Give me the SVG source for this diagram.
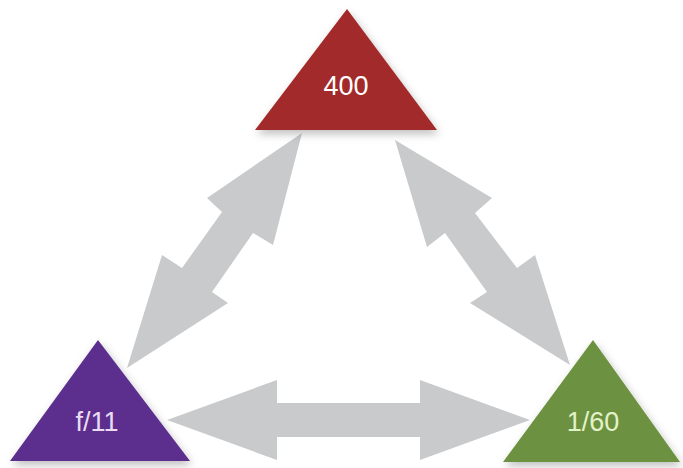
<svg xmlns="http://www.w3.org/2000/svg" width="683" height="468" viewBox="0 0 683 468">
<style>
.arrow{fill:#c9cacc}
.lbl{font-family:"Liberation Sans",Arial,sans-serif;font-size:27px;text-anchor:middle}
</style>
<defs>
<filter id="sh" x="-20%" y="-20%" width="140%" height="150%">
<feDropShadow dx="2" dy="4" stdDeviation="4" flood-color="#000" flood-opacity="0.25"/>
</filter>
</defs>
<rect width="683" height="468" fill="#ffffff"/>
<g id="connectors">
<polygon class="arrow" points="302,133 273,245 253,233 212,292 228,303 127,368 162,255 182,268 222,212 207,198"/>
<polygon class="arrow" points="395,140 492,198 475,213 517,268 535,255 570,365 470,303 487,292 445,233 427,247"/>
<polygon class="arrow" points="167,420 277,380 277,403 420,403 420,380 530,420 420,460 420,437 277,437 277,460"/>
</g>
<g id="node-400">
<polygon points="347,9 255,130 437,130" fill="#a32a2a" filter="url(#sh)"/>
<text class="lbl" x="346" y="95" fill="#ffffff">400</text>
</g>
<g id="node-f11">
<polygon points="98,340 10,461 190,461" fill="#5c2d8e" filter="url(#sh)"/>
<text class="lbl" x="97" y="431" fill="#eadcf2">f/11</text>
</g>
<g id="node-160">
<polygon points="593,340 503,462 680,462" fill="#6c913f" filter="url(#sh)"/>
<text class="lbl" x="593" y="431" fill="#e3f2c8">1/60</text>
</g>
</svg>
